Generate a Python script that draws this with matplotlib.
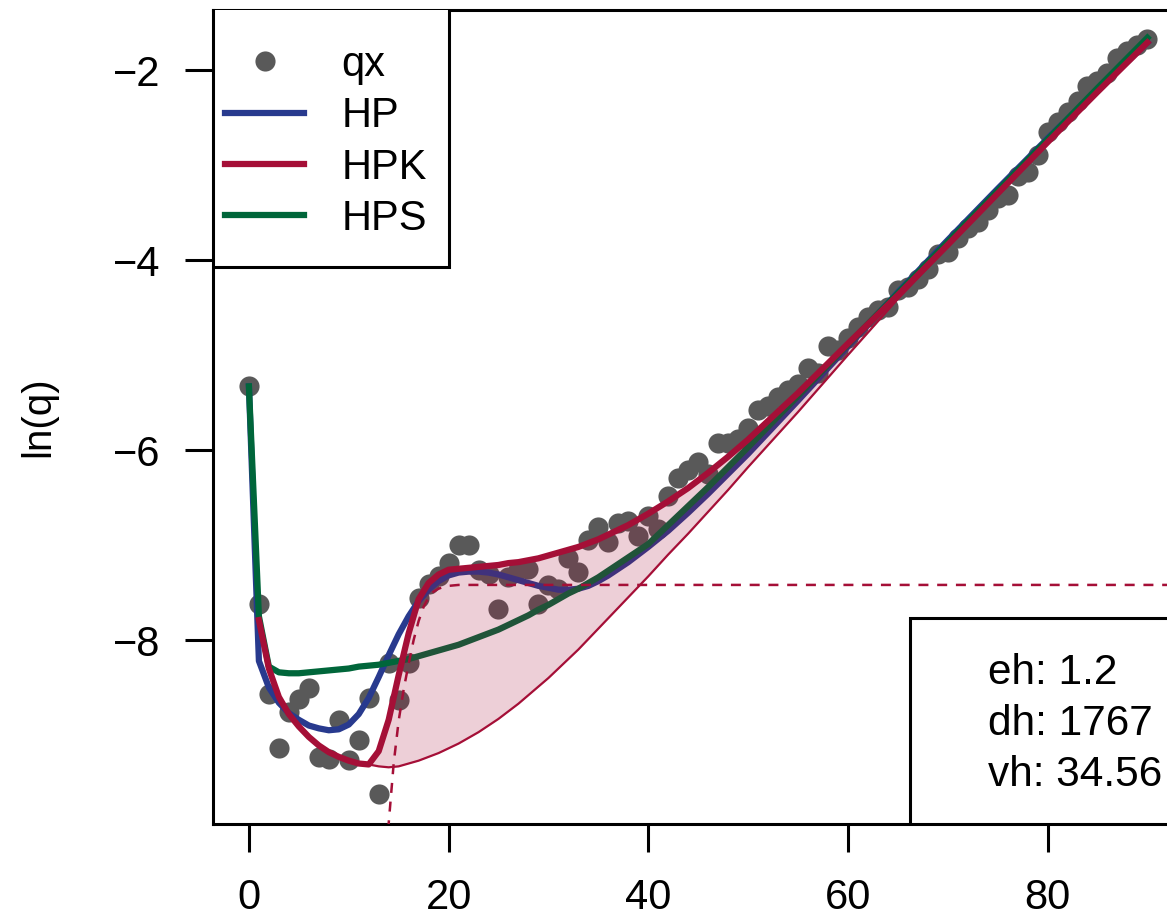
import numpy as np
import matplotlib
matplotlib.use("Agg")
import matplotlib.pyplot as plt
from matplotlib.patches import Rectangle

plt.rcParams["font.family"] = ["Liberation Sans", "DejaVu Sans"]

# observed log mortality rates, ages 0..90
ages = np.arange(0, 91)
qx = [-5.33, -7.62, -8.57, -9.14, -8.76, -8.62, -8.51, -9.23, -9.25, -8.84,
      -9.26, -9.05, -8.61, -9.62, -8.24, -8.63, -8.24, -7.56, -7.41, -7.33,
      -7.19, -7.00, -7.00, -7.26, -7.30, -7.67, -7.34, -7.26, -7.25, -7.62,
      -7.42, -7.46, -7.14, -7.28, -6.95, -6.81, -6.97, -6.77, -6.75, -6.91,
      -6.69, -6.83, -6.48, -6.29, -6.21, -6.13, -6.25, -5.93, -5.93, -5.88,
      -5.77, -5.58, -5.54, -5.44, -5.37, -5.30, -5.14, -5.19, -4.91, -4.95,
      -4.82, -4.70, -4.60, -4.53, -4.49, -4.32, -4.28, -4.20, -4.09, -3.94,
      -3.91, -3.77, -3.66, -3.60, -3.47, -3.35, -3.32, -3.12, -3.07, -2.89,
      -2.65, -2.55, -2.44, -2.33, -2.17, -2.12, -2.03, -1.87, -1.80, -1.74,
      -1.67]

# fitted curves
fit_ages = list(range(0, 41)) + [42, 44, 46, 48, 50, 55, 60, 65, 70, 75, 80, 85, 90]
hp = [-5.33, -8.22, -8.50, -8.66, -8.77, -8.84, -8.90, -8.93, -8.95, -8.94,
      -8.89, -8.78, -8.61, -8.39, -8.16, -7.94, -7.75, -7.59, -7.47, -7.38,
      -7.32, -7.29, -7.28, -7.28, -7.29, -7.31, -7.34, -7.37, -7.40, -7.43,
      -7.45, -7.47, -7.47, -7.46, -7.43, -7.38, -7.32, -7.25, -7.18, -7.10,
      -7.02, -6.85, -6.66, -6.46, -6.25, -6.04, -5.48, -4.91, -4.34, -3.79,
      -3.25, -2.72, -2.21, -1.71]
hpk = [-5.33, -7.79, -8.30, -8.60, -8.78, -8.91, -9.02, -9.11, -9.18, -9.23,
       -9.27, -9.30, -9.31, -9.17, -8.84, -8.37, -7.93, -7.57, -7.40, -7.31,
       -7.26, -7.25, -7.24, -7.23, -7.22, -7.21, -7.19, -7.18, -7.16, -7.14,
       -7.11, -7.08, -7.05, -7.02, -6.98, -6.94, -6.89, -6.84, -6.79, -6.73,
       -6.67, -6.54, -6.40, -6.24, -6.07, -5.89, -5.40, -4.88, -4.37, -3.84,
       -3.30, -2.76, -2.23, -1.71]
hps = [-5.33, -7.75, -8.28, -8.34, -8.35, -8.35, -8.34, -8.33, -8.32, -8.31,
       -8.30, -8.28, -8.27, -8.26, -8.24, -8.22, -8.20, -8.17, -8.14, -8.11,
       -8.08, -8.05, -8.01, -7.97, -7.93, -7.89, -7.84, -7.79, -7.74, -7.68,
       -7.63, -7.57, -7.51, -7.46, -7.40, -7.34, -7.27, -7.20, -7.13, -7.06,
       -6.99, -6.79, -6.59, -6.39, -6.18, -5.97, -5.43, -4.89, -4.35, -3.81,
       -3.27, -2.73, -2.19, -1.66]
# HPK without the accident hump (lower edge of the shaded area), ages 12..90
hpk_base = [-9.31, -9.33, -9.34, -9.33, -9.30, -9.27, -9.23, -9.19, -9.14,
            -9.09, -9.03, -8.97, -8.90, -8.83, -8.75, -8.67, -8.58, -8.49,
            -8.40, -8.30, -8.20, -8.10, -7.99, -7.88, -7.77, -7.66, -7.55,
            -7.44, -7.33, -7.10, -6.88, -6.65, -6.42, -6.18, -5.60, -5.00,
            -4.41, -3.86, -3.31, -2.76, -2.23, -1.71]
# accident hump alone
hump_age = [13.9, 14.0, 14.5, 15.0, 15.5, 16.0, 16.5, 17.0, 17.5, 18.0, 18.5,
            19.0, 19.5, 20.0, 21.0, 100.0]
hump = [-10.2, -9.93, -9.30, -8.85, -8.52, -8.25, -8.00, -7.80, -7.65, -7.55,
        -7.49, -7.46, -7.44, -7.43, -7.42, -7.42]

box_labels = ["eh", "dh", "vh"]
box_values = ["1.2", "1767", "34.56"]

col_pts = "#595959"
col_hp = "#283A8E"
col_hpk = "#A50F37"
col_hps = "#00663A"

fig = plt.figure(figsize=(11.67, 9.21), dpi=100)
ax = fig.add_axes([0.1825, 0.1053, 0.8315, 0.8838])

ax.plot(ages, qx, "o", color=col_pts, ms=14.5, mew=0, zorder=1, label="qx")
ax.plot(fit_ages, hp, color=col_hp, lw=4.5, zorder=2, label="HP")
ax.plot(fit_ages, hps, color=col_hps, lw=4.5, zorder=3, label="HPS")

i0 = fit_ages.index(12)
ax.fill_between(fit_ages[i0:], hpk_base, hpk[i0:], color=col_hpk, alpha=0.2,
                lw=0, zorder=4)
ax.plot(fit_ages[i0:], hpk_base, color=col_hpk, lw=1.6, zorder=5)
ax.plot(hump_age, hump, color=col_hpk, lw=1.8, ls=(0, (4, 3.5)), zorder=5)
ax.plot(fit_ages[1:], hpk[1:], color=col_hpk, lw=4.5, zorder=6, label="HPK")

ax.set_xlim(-3.6, 93.6)
ax.set_ylim(-9.937, -1.368)
ax.set_xticks([0, 20, 40, 60, 80])
ax.set_yticks([-8, -6, -4, -2])
ax.tick_params(length=20, width=2.2, labelsize=30, pad=18)
ax.tick_params(axis="x", pad=19)
for s in ax.spines.values():
    s.set_linewidth(2.2)
ax.set_ylabel("ln(q)", fontsize=29, labelpad=40)

# legend: box drawn separately so its size matches the original
ax.add_patch(Rectangle((0, 0.6843), 0.2432, 0.4, transform=ax.transAxes,
                       facecolor="white", edgecolor="black", lw=2.2, zorder=9))
handles, labels = ax.get_legend_handles_labels()
order = [labels.index(k) for k in ["qx", "HP", "HPK", "HPS"]]
leg = ax.legend([handles[i] for i in order], [labels[i] for i in order],
                loc="upper left", bbox_to_anchor=(0.0124, 0.957),
                borderaxespad=0, borderpad=0, frameon=False, fontsize=30,
                handlelength=1.9, handletextpad=0.9, labelspacing=0.27)
leg.set_zorder(10)

ax.add_patch(Rectangle((0.7183, 0), 0.4, 0.253, transform=ax.transAxes,
                       facecolor="white", edgecolor="black", lw=2.2, zorder=9))
for k, (lab, val) in enumerate(zip(box_labels, box_values)):
    ax.text(0.7986, 0.1855 - k * 0.0624, f"{lab}: {val}", fontsize=30.5,
            va="center", ha="left", transform=ax.transAxes, zorder=11)

fig.savefig("out.png", dpi=100)
